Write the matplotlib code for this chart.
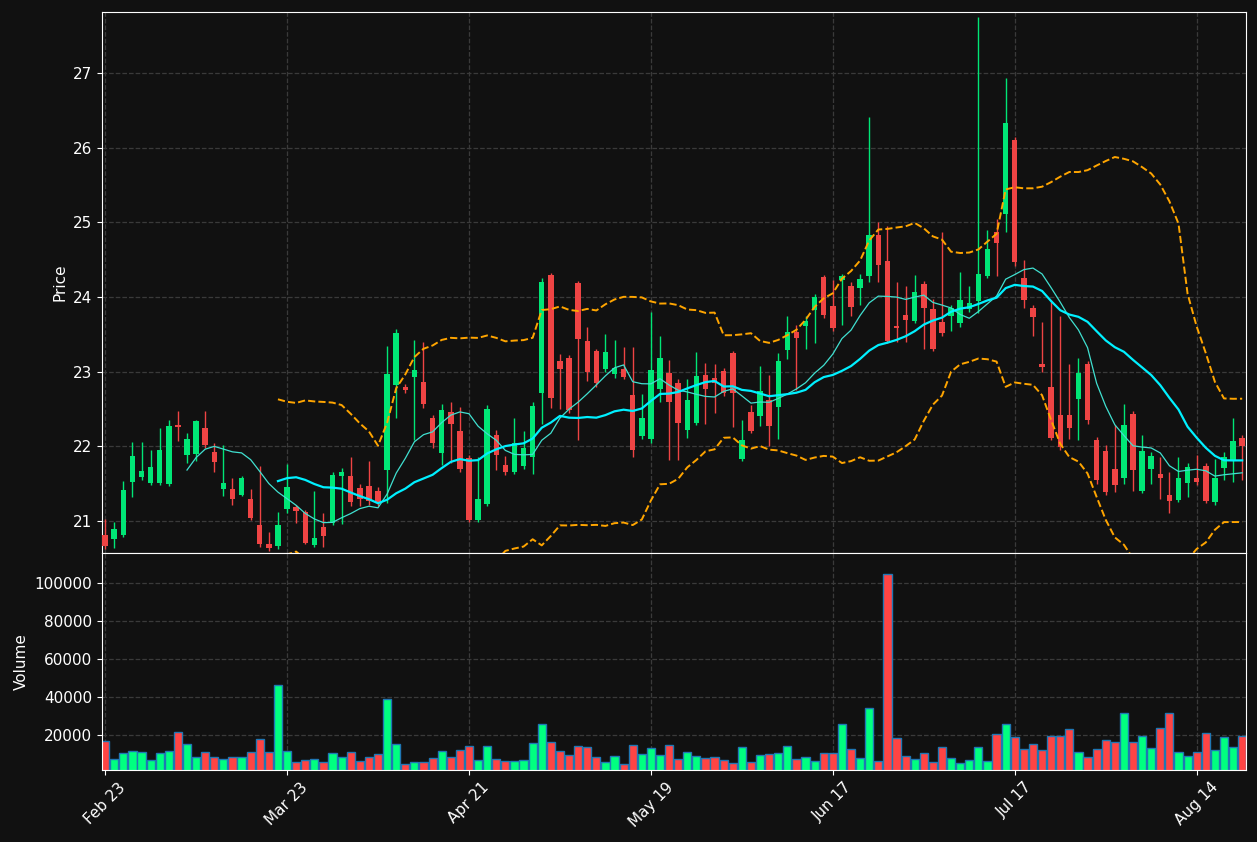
import matplotlib
matplotlib.use("Agg")
import matplotlib.pyplot as plt
import numpy as np

opens = [20.81,20.76,20.81,21.52,21.59,21.51,21.51,21.50,22.28,21.88,
         21.90,22.25,21.92,21.43,21.43,21.35,21.30,20.95,20.69,20.66,
         21.16,21.19,21.12,20.68,20.92,20.97,21.60,21.60,21.44,21.47,
         21.40,21.68,22.82,22.79,22.93,22.86,22.38,21.91,22.46,22.21,
         21.84,21.01,21.23,22.15,21.75,21.66,21.74,21.86,22.71,24.29,
         23.14,23.18,24.19,23.41,23.28,23.04,22.97,23.04,22.69,22.14,
         22.10,22.77,22.98,22.85,22.22,22.31,22.96,22.92,23.01,23.25,
         21.83,22.46,22.41,22.62,22.53,23.29,23.53,23.61,23.83,24.27,
         23.88,24.23,24.15,24.12,24.28,24.83,24.48,23.61,23.76,23.68,
         24.17,23.84,23.67,23.75,23.65,23.84,23.95,24.28,24.87,25.12,
         26.10,24.25,23.85,23.10,22.79,22.42,22.42,22.63,23.10,22.09,
         21.94,21.70,21.58,22.43,21.40,21.70,21.63,21.35,21.28,21.51,
         21.58,21.74,21.26,21.71,21.82,22.11]
closes = [20.67,20.89,21.42,21.87,21.67,21.72,21.95,22.27,22.26,22.10,
          22.34,22.02,21.79,21.51,21.30,21.58,21.04,20.69,20.64,20.95,
          21.46,21.13,20.71,20.77,20.80,21.62,21.66,21.25,21.30,21.27,
          21.25,22.97,23.52,22.75,23.02,22.57,22.04,22.49,22.30,21.70,
          21.01,21.30,22.50,21.88,21.66,22.04,21.98,22.54,24.20,22.65,
          23.04,22.49,23.44,23.00,22.85,23.26,23.05,22.93,21.95,22.38,
          23.02,23.18,22.59,22.31,22.62,22.94,22.77,22.85,22.71,22.71,
          22.08,22.21,22.74,22.27,23.14,23.53,23.45,23.68,24.00,23.76,
          23.59,24.28,23.87,24.24,24.83,24.43,23.41,23.59,23.69,24.07,
          23.85,23.30,23.52,23.85,23.96,23.92,24.31,24.64,24.72,26.33,
          24.47,23.96,23.73,23.06,22.11,21.99,22.25,22.98,22.35,21.55,
          21.39,21.48,22.29,21.68,21.94,21.87,21.58,21.27,21.58,21.72,
          21.52,21.27,21.58,21.86,22.07,22.00]
highs = [21.03,20.99,21.54,22.06,22.06,21.95,22.25,22.35,22.47,22.18,
         22.35,22.47,22.05,22.02,21.57,21.60,21.43,21.74,20.85,21.12,
         21.76,21.22,21.15,21.40,21.10,21.65,21.71,21.86,21.50,21.80,
         21.45,23.34,23.57,22.83,23.43,23.40,22.42,22.57,22.59,22.53,
         21.88,21.86,22.55,22.22,21.87,22.38,22.21,22.59,24.25,24.32,
         23.24,23.22,24.22,23.60,23.30,23.50,23.42,23.33,23.33,22.70,
         23.80,23.48,23.16,22.90,22.90,23.26,23.12,23.10,23.05,23.28,
         22.35,22.56,23.07,22.95,23.25,23.74,23.63,23.74,24.04,24.30,
         24.23,24.31,24.20,24.31,26.41,25.00,24.95,24.20,24.15,24.30,
         24.22,23.97,24.87,23.90,24.33,24.15,27.75,24.90,25.05,26.94,
         26.15,24.50,23.90,23.66,23.96,23.74,23.10,23.19,23.15,22.12,
         22.02,22.29,22.57,22.47,22.15,21.93,21.86,21.65,21.86,21.77,
         21.88,21.78,21.83,21.93,22.38,22.15]
lows = [20.62,20.64,20.78,21.32,21.55,21.48,21.48,21.47,22.07,21.77,
        21.80,21.98,21.66,21.33,21.22,21.33,21.01,20.65,20.60,20.63,
        21.10,20.97,20.69,20.65,20.65,20.94,20.96,21.20,21.20,21.22,
        21.20,21.24,22.38,22.72,22.08,22.52,21.98,21.75,21.78,21.65,
        20.98,20.98,21.20,21.68,21.62,21.63,21.70,21.63,22.30,22.51,
        22.50,22.45,22.08,22.87,22.80,23.00,22.91,22.90,21.86,22.10,
        22.05,22.60,21.82,21.82,22.11,22.28,22.30,22.45,22.68,22.26,
        21.80,22.18,22.27,22.00,22.10,23.17,22.75,23.30,23.38,23.72,
        23.55,23.62,23.75,23.90,24.20,24.20,23.38,23.40,23.40,23.65,
        23.31,23.28,23.48,23.55,23.60,23.80,23.78,24.25,24.28,24.87,
        24.42,23.85,23.48,23.00,22.08,21.95,22.10,22.08,22.30,21.50,
        21.35,21.39,21.50,21.40,21.37,21.50,21.30,21.10,21.25,21.32,
        21.48,21.24,21.22,21.55,21.52,21.55]
volumes = [17200,7400,10500,11600,11100,6800,10500,11600,21600,15300,
           8800,11100,8800,7400,8800,8800,11100,17900,11100,46300,
           11600,5800,6800,7700,5800,10500,8400,11100,6300,8800,
           10000,38900,15300,4700,5800,5800,7900,11600,8400,12100,
           14200,6800,14200,7400,6300,6300,6800,15800,25800,16300,
           11600,9500,14200,13700,8400,5800,8900,4700,14700,10000,
           13200,9500,14700,7400,11100,8900,7900,8400,6800,5300,
           13700,5800,9500,10000,10500,14200,7400,8400,6300,10500,
           10500,25800,12600,7900,34200,6300,105000,18400,8900,7400,
           10500,5800,13700,7900,5300,6800,13700,6300,20500,25800,
           18900,12600,15300,12100,19500,19500,23200,11100,8400,12600,
           17400,16300,31600,16300,19500,13200,23700,31600,11100,8900,
           11100,21100,12100,18900,13700,19500]
tick_labels = ["Feb 23", "Mar 23", "Apr 21", "May 19", "Jun 17", "Jul 17", "Aug 14"]
tick_idx = [0, 20, 40, 60, 80, 100, 120]

o = np.array(opens); c = np.array(closes); h = np.array(highs); l = np.array(lows)
v = np.array(volumes)
n = len(o)
x = np.arange(n)

def sma(a, w):
    out = np.full(len(a), np.nan)
    for i in range(w - 1, len(a)):
        out[i] = a[i - w + 1:i + 1].mean()
    return out

ma10 = sma(c, 10)
ma20 = sma(c, 20)
std20 = np.full(n, np.nan)
for i in range(19, n):
    std20[i] = c[i - 19:i + 1].std()
upper = ma20 + 2 * std20
lower = ma20 - 2 * std20

BG = "#111111"
UP = "#00e676"
DN = "#ef4444"
VUP = "#00ff80"
VDN = "#ff4444"

fig = plt.figure(figsize=(12.57, 8.42), dpi=100, facecolor=BG)
ax = fig.add_axes([0.0811, 0.3432, 0.910, 0.6425], facecolor=BG)
axv = fig.add_axes([0.0811, 0.0855, 0.910, 0.2577], facecolor=BG, sharex=ax)

up = c >= o
for i in range(n):
    col = UP if up[i] else DN
    ax.vlines(x[i], l[i], h[i], color=col, linewidth=1, zorder=2)
    lo_b = min(o[i], c[i]); hi_b = max(o[i], c[i])
    ax.bar(x[i], max(hi_b - lo_b, 0.02), bottom=lo_b, width=0.6, color=col, zorder=3)

ax.plot(x, ma10, color="#40e0d0", linewidth=0.9, zorder=4)
ax.plot(x, ma20, color="#00f0ff", linewidth=1.6, zorder=4)
ax.plot(x, upper, color="orange", linestyle="--", linewidth=1.4, zorder=4)
ax.plot(x, lower, color="orange", linestyle="--", linewidth=1.4, zorder=4)

axv.bar(x, v, width=0.9, color=[VUP if u else VDN for u in up],
        edgecolor="#1f77b4", linewidth=1)

ax.set_xlim(-0.35, 125.4)
ax.set_ylim(20.57, 27.82)
axv.set_ylim(1750, 115800)
axv.set_yticks([20000, 40000, 60000, 80000, 100000])
axv.set_yticklabels(["20000", "40000", "60000", "80000", "100000"])
axv.set_xticks(tick_idx)
axv.set_xticklabels(tick_labels, rotation=45)
plt.setp(ax.get_xticklabels(), visible=False)

for a in (ax, axv):
    a.grid(True, color="#3a3a3a", linestyle="--", linewidth=0.9)
    a.set_axisbelow(True)
    for s in a.spines.values():
        s.set_color("white")
    a.tick_params(colors="white", labelsize=11)
ax.set_ylabel("Price", color="white", fontsize=11)
axv.set_ylabel("Volume", color="white", fontsize=11)

fig.savefig("out.png", dpi=100, facecolor=BG)
